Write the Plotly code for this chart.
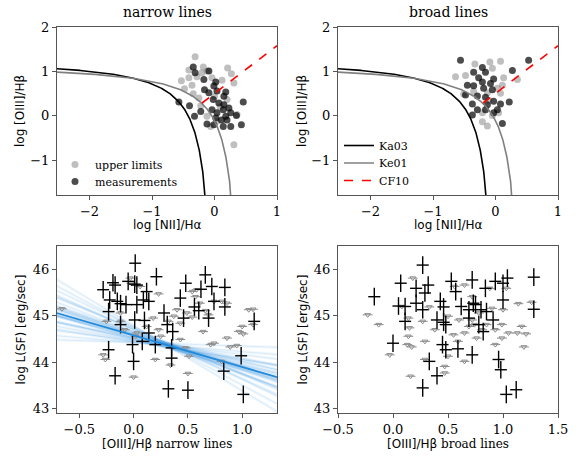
import numpy as np
import plotly.graph_objects as go

# %% data

# BPT diagram, narrow lines
nar_ul_x = [-0.31, -0.41, -0.18, 0.21, 0.27, -0.53, -0.36, -0.28, -0.48, -0.34, 0.12, 0.31, -0.25,
            -0.22, -0.12, -0.06, 0.04, 0.31, 0.09, 0.20, 0.00, -0.12, -0.20, 0.36, -0.04, -0.41]
nar_ul_y = [1.33, 1.03, 1.10, 1.08, 0.95, 0.79, 0.69, 0.88, 0.61, 0.50, 0.80, 0.74, 0.40,
            0.23, -0.01, -0.24, -0.12, -0.65, 0.20, 0.37, 0.44, 1.01, 0.97, 0.03, 0.86, 0.86]
nar_me_x = [-0.34, -0.31, -0.09, -0.17, 0.02, -0.16, -0.01, -0.09, 0.18, -0.02, 0.07, 0.15, -0.57,
            -0.40, -0.32, -0.22, -0.04, 0.04, 0.14, 0.18, 0.26, 0.46, 0.35, -0.12, -0.01, 0.14,
            0.26, 0.43, 0.11, 0.20, 0.02, 0.15, 0.04, 0.23]
nar_me_y = [1.10, 0.97, 1.01, 0.82, 0.76, 0.59, 0.67, 0.52, 0.54, 0.37, 0.29, 0.25, 0.31,
            0.23, -0.01, 0.10, 0.14, 0.07, 0.14, -0.01, 0.07, 0.31, 0.01, -0.18, -0.20, -0.24,
            -0.24, -0.20, -0.09, -0.09, -0.05, 0.44, 0.56, 0.18]

# BPT diagram, broad lines
brd_ul_x = [-0.33, -0.09, 0.08, -0.05, -0.64, -0.48, 0.13, 0.35, 0.11, 0.08, -0.13, -0.21, -0.13,
            -0.05, 0.05, -0.51, -0.21, -0.35, 0.03, -0.11]
brd_ul_y = [1.17, 1.21, 1.23, 1.07, 0.88, 0.91, 0.86, 0.82, 0.69, 0.51, 0.52, -0.13, -0.23,
            0.01, 0.07, 0.49, 0.07, 0.55, 0.62, 0.35]
brd_me_x = [-0.56, 0.53, 0.27, -0.21, -0.35, -0.16, -0.03, -0.27, -0.45, -0.35, -0.19, -0.08, -0.48,
            -0.29, -0.16, -0.03, 0.08, 0.22, -0.37, -0.29, -0.16, -0.03, -0.37, 0.11, -0.13, -0.21,
            -0.05, 0.03]
brd_me_y = [1.25, 1.25, 1.02, 1.09, 0.98, 0.98, 0.83, 0.86, 0.69, 0.68, 0.62, 0.73, 0.47,
            0.45, 0.42, 0.33, 0.27, 0.31, 0.27, 0.14, 0.14, 0.07, 0.02, -0.17, 0.25, 0.76,
            0.59, 0.14]

# demarcation lines
ka03_a, ka03_b, ka03_c = 0.61, 0.05, 1.30   # Kauffmann+03
ke01_a, ke01_b, ke01_c = 0.61, 0.47, 1.19   # Kewley+01
cf10_x = [-0.20, 1.00]
cf10_y = [0.29, 1.58]

# L(SF) vs [OIII]/Hb, narrow lines
ln_me_x = [0.015, 0.21, 0.66, -0.28, -0.19, -0.17, -0.05, 0.01, 0.03, 0.12, -0.22, -0.15, -0.12,
           0.03, 0.09, 0.14, -0.23, -0.07, 0.48, 0.43, 0.72, 0.74, 0.84, 0.62, 0.56, 0.60, 0.69,
           0.84, 1.11, -0.12, 0.01, 0.10, 0.28, 0.31, 0.46, 0.36, 0.14, 0.20, -0.23, -0.01, 0.35,
           0.35, 0.00, -0.17, 0.32, 0.50, 0.83, 0.99, 1.01, 0.08]
ln_me_y = [46.13, 45.84, 45.88, 45.56, 45.71, 45.66, 45.74, 45.68, 45.66, 45.52, 45.34, 45.31, 45.26,
           45.24, 45.34, 45.31, 45.09, 45.24, 45.70, 45.38, 45.63, 45.31, 45.61, 45.57, 45.19, 45.11,
           44.95, 45.19, 44.88, 44.81, 44.91, 44.90, 45.06, 44.81, 44.95, 44.66, 44.63, 44.38, 44.27,
           44.38, 44.31, 44.09, 44.02, 43.71, 43.43, 43.40, 43.81, 44.14, 43.31, 44.45]
ln_ul_x = [-0.66, -0.25, -0.28, -0.26, 0.00, -0.03, -0.02, 0.06, 0.23, -0.12, -0.12, -0.08, 0.02,
           0.03, 0.12, 0.18, 0.23, 0.25, 0.32, 0.37, 0.40, 0.43, 0.49, 0.54, 0.57, 0.58, 0.61,
           0.66, 0.69, 0.74, 0.81, 0.86, 0.64, 0.71, 0.74, 0.48, 0.51, 0.50, 0.34, 0.20, 0.86,
           0.89, 0.95, 0.97, 1.00, 1.01, 1.06, 1.10, 1.10, 0.81, 0.43, 0.54]
ln_ul_y = [45.15, 44.88, 44.16, 44.06, 43.68, 45.81, 45.70, 45.63, 45.47, 45.06, 44.88, 44.70, 44.56,
           44.63, 44.77, 44.95, 44.70, 44.56, 44.88, 44.99, 45.13, 44.84, 45.06, 44.97, 45.41, 45.56,
           45.27, 45.11, 45.02, 45.31, 45.31, 45.27, 44.66, 44.38, 44.41, 44.31, 44.13, 43.76, 43.94,
           44.06, 44.52, 44.33, 44.36, 44.66, 44.77, 44.61, 45.13, 45.14, 44.81, 44.02, 44.49, 45.52]

# L(SF) vs [OIII]/Hb, broad lines
lb_me_x = [0.27, -0.17, 0.07, 0.05, 0.11, 0.21, 0.32, 0.29, 0.21, 0.27, 0.11, 0.00, 0.43, 0.46,
           0.40, 0.46, 0.48, 0.53, 0.57, 0.72, 0.62, 0.69, 0.73, 0.75, 0.69, 0.78, 0.84, 0.85,
           0.82, 0.93, 1.00, 1.04, 1.00, 0.91, 1.28, 1.28, 0.45, 0.48, 0.59, 0.72, 0.33, 0.40,
           0.27, 0.96, 0.98, 1.03, 1.12, 0.80]
lb_me_y = [46.09, 45.41, 45.70, 45.21, 45.20, 45.59, 45.66, 45.49, 45.27, 45.13, 44.88, 44.41, 45.31,
           45.19, 44.91, 44.86, 44.81, 45.74, 45.52, 45.77, 45.20, 45.13, 45.27, 45.24, 44.95, 44.81,
           45.59, 45.09, 44.66, 45.74, 45.70, 45.81, 45.34, 44.91, 45.83, 45.14, 44.38, 44.27, 44.29,
           44.16, 44.02, 43.71, 43.45, 44.06, 43.84, 43.31, 43.41, 45.13]
lb_ul_x = [-0.23, -0.13, -0.03, 0.14, 0.13, 0.17, 0.16, 0.08, 0.14, 0.15, 0.18, 0.27, 0.29, 0.29,
           0.33, 0.38, 0.47, 0.47, 0.50, 0.56, 0.60, 0.59, 0.65, 0.65, 0.65, 0.69, 0.72, 0.74,
           0.78, 0.81, 0.85, 0.88, 0.90, 0.93, 0.99, 0.99, 1.00, 1.03, 1.05, 1.13, 1.14, 1.17,
           1.21, 1.26, 1.19, 0.93, 0.76, 0.55, 0.72, 0.50]
lb_ul_y = [45.02, 44.81, 44.16, 44.56, 44.38, 44.33, 43.70, 45.20, 44.95, 44.74, 45.81, 44.88, 44.45,
           44.06, 45.19, 44.70, 43.91, 43.77, 44.13, 45.63, 44.91, 44.45, 45.66, 44.02, 44.63, 44.77,
           45.41, 44.81, 45.06, 44.70, 44.81, 45.59, 45.16, 44.70, 44.52, 44.81, 45.13, 45.59, 44.63,
           44.63, 45.26, 44.77, 44.61, 45.29, 44.33, 44.38, 44.52, 44.59, 44.91, 44.99]

x_err_me = 0.055
y_err_me = 0.19
x_err_ul = 0.045

# linear fit (best) and a handful of posterior draws, pivot at x = 0.35
fit_slope, fit_pivot = -0.68, 44.34
draw_slope = [-0.08, -0.20, -0.30, -0.38, -0.45, -0.50, -0.55, -0.60, -0.63, -0.66, -0.70, -0.73,
              -0.77, -0.80, -0.85, -0.90, -0.95, -1.05, -1.12, -0.58, -0.68, -0.75, -0.42, -0.98,
              -1.25, -1.40]
draw_pivot = [44.40, 44.36, 44.36, 44.31, 44.38, 44.33, 44.30, 44.36, 44.34, 44.29, 44.35, 44.39,
              44.32, 44.37, 44.30, 44.34, 44.38, 44.33, 44.36, 44.40, 44.28, 44.35, 44.33, 44.37,
              44.32, 44.30]

# %% figure
serif = "DejaVu Serif"
sans = "DejaVu Sans"
ul_col = "rgba(128,128,128,0.5)"
me_col = "rgba(0,0,0,0.7)"
spine = "#555555"
W, H = 581, 465


def fx_px(px):
    return px / W


def fy_px(py):
    return 1 - py / H


fig = go.Figure()

xs_ka = np.linspace(-2.6, ka03_b - 0.001, 800)
xs_ke = np.linspace(-2.6, ke01_b - 0.001, 800)

for n, (ul_x, ul_y, me_x, me_y) in enumerate([(nar_ul_x, nar_ul_y, nar_me_x, nar_me_y),
                                              (brd_ul_x, brd_ul_y, brd_me_x, brd_me_y)]):
    xa, ya = ("x", "y") if n == 0 else ("x2", "y2")
    fig.add_trace(go.Scatter(x=ul_x, y=ul_y, mode="markers", name="upper limits", xaxis=xa, yaxis=ya,
                             marker=dict(size=7, color=ul_col), showlegend=(n == 0), legend="legend"))
    fig.add_trace(go.Scatter(x=me_x, y=me_y, mode="markers", name="measurements", xaxis=xa, yaxis=ya,
                             marker=dict(size=7, color=me_col), showlegend=(n == 0), legend="legend3"))
    fig.add_trace(go.Scatter(x=xs_ka, y=ka03_a / (xs_ka - ka03_b) + ka03_c, mode="lines", name="Ka03",
                             xaxis=xa, yaxis=ya, line=dict(color="black", width=1.6),
                             showlegend=(n == 1), legend="legend2"))
    fig.add_trace(go.Scatter(x=xs_ke, y=ke01_a / (xs_ke - ke01_b) + ke01_c, mode="lines", name="Ke01",
                             xaxis=xa, yaxis=ya, line=dict(color="gray", width=1.6),
                             showlegend=(n == 1), legend="legend4"))
    fig.add_trace(go.Scatter(x=cf10_x, y=cf10_y, mode="lines", name="CF10", xaxis=xa, yaxis=ya,
                             line=dict(color="red", width=1.6, dash="dash"),
                             showlegend=(n == 1), legend="legend5"))

# fan of fit draws (narrow lines panel)
fx = np.array([-0.8, 1.4])
for s, p in zip(draw_slope, draw_pivot):
    fig.add_trace(go.Scatter(x=fx, y=p + s * (fx - 0.35), mode="lines", xaxis="x3", yaxis="y3",
                             line=dict(color="rgba(35,137,218,0.06)", width=3), showlegend=False,
                             hoverinfo="skip"))
for s, p in zip(draw_slope, draw_pivot):
    fig.add_trace(go.Scatter(x=fx, y=p + s * (fx - 0.35), mode="lines", xaxis="x3", yaxis="y3",
                             line=dict(color="rgba(35,137,218,0.12)", width=1), showlegend=False,
                             hoverinfo="skip"))

for xa, ya, me_x, me_y, ul_x, ul_y in [("x3", "y3", ln_me_x, ln_me_y, ln_ul_x, ln_ul_y),
                                        ("x4", "y4", lb_me_x, lb_me_y, lb_ul_x, lb_ul_y)]:
    fig.add_trace(go.Scatter(x=ul_x, y=ul_y, mode="markers", xaxis=xa, yaxis=ya, showlegend=False,
                             marker=dict(symbol="triangle-down-open", size=5, color="#8c8c8c",
                                         line=dict(width=1)),
                             error_x=dict(type="constant", value=x_err_ul, color="#8c8c8c",
                                          thickness=1, width=0)))
    fig.add_trace(go.Scatter(x=me_x, y=me_y, mode="markers", xaxis=xa, yaxis=ya, showlegend=False,
                             marker=dict(size=1, color="rgba(0,0,0,0)"),
                             error_x=dict(type="constant", value=x_err_me, color="black",
                                          thickness=1.4, width=0),
                             error_y=dict(type="constant", value=y_err_me, color="black",
                                          thickness=1.4, width=0)))

fig.add_trace(go.Scatter(x=fx, y=fit_pivot + fit_slope * (fx - 0.35), mode="lines", xaxis="x3",
                         yaxis="y3", line=dict(color="#2389da", width=1.8), showlegend=False))

tickfont = dict(family=serif, size=13, color="black")
axis_common = dict(showline=True, linecolor=spine, linewidth=1, mirror=True, ticks="outside",
                   ticklen=4, tickcolor=spine, showgrid=False, zeroline=False, tickfont=tickfont,
                   automargin=False)

colx = [[fx_px(57), fx_px(277)], [fx_px(338), fx_px(558)]]
rowy = [[fy_px(195), fy_px(27)], [fy_px(413), fy_px(246)]]

lab = dict(family=sans, size=12, color="black")
ser = "<span style='font-family:DejaVu Serif'>%s</span>"


def text(t, x, y, angle=0, font=lab):
    return dict(text=t, x=x, y=y, xref="paper", yref="paper", xanchor="center", yanchor="middle",
                showarrow=False, textangle=angle, font=font)


def leg(px, py):
    return dict(x=fx_px(px), y=fy_px(py), xanchor="left", yanchor="top", bgcolor="rgba(0,0,0,0)",
                font=dict(family=serif, size=11, color="black"), tracegroupgap=0, itemwidth=30)


fig.update_layout(
    width=W, height=H, margin=dict(l=0, r=0, t=0, b=0),
    plot_bgcolor="white", paper_bgcolor="white",
    xaxis=dict(domain=colx[0], anchor="y", range=[-2.52, 1.0], tickvals=[-2, -1, 0, 1], **axis_common),
    yaxis=dict(domain=rowy[0], anchor="x", range=[-1.78, 2.0], tickvals=[-1, 0, 1, 2], **axis_common),
    xaxis2=dict(domain=colx[1], anchor="y2", range=[-2.52, 1.0], tickvals=[-2, -1, 0, 1], **axis_common),
    yaxis2=dict(domain=rowy[0], anchor="x2", range=[-1.78, 2.0], tickvals=[-1, 0, 1, 2], **axis_common),
    xaxis3=dict(domain=colx[0], anchor="y3", range=[-0.705, 1.32], tickvals=[-0.5, 0, 0.5, 1.0],
                tickformat=".1f", **axis_common),
    yaxis3=dict(domain=rowy[1], anchor="x3", range=[42.91, 46.5], tickvals=[43, 44, 45, 46], **axis_common),
    xaxis4=dict(domain=colx[1], anchor="y4", range=[-0.5, 1.5], tickvals=[-0.5, 0, 0.5, 1.0, 1.5],
                tickformat=".1f", **axis_common),
    yaxis4=dict(domain=rowy[1], anchor="x4", range=[42.91, 46.5], tickvals=[43, 44, 45, 46], **axis_common),
    legend=leg(55, 150),
    legend3=leg(55, 167),
    legend2=leg(339, 131),
    legend4=leg(339, 148.5),
    legend5=leg(339, 166),
    annotations=[
        text("narrow lines", sum(colx[0]) / 2, fy_px(12), font=dict(family=serif, size=14, color="black")),
        text("broad lines", sum(colx[1]) / 2, fy_px(12), font=dict(family=serif, size=14, color="black")),
        text("log [NII]/Hα", sum(colx[0]) / 2, fy_px(225)),
        text("log [NII]/Hα", sum(colx[1]) / 2, fy_px(225)),
        text("log [OIII]/Hβ", fx_px(20), sum(rowy[0]) / 2, angle=-90),
        text("log [OIII]/Hβ", fx_px(302), sum(rowy[0]) / 2, angle=-90),
        text("[OIII]/Hβ" + ser % " narrow lines", sum(colx[0]) / 2, fy_px(444)),
        text("[OIII]/Hβ" + ser % " broad lines", sum(colx[1]) / 2, fy_px(444)),
        text("log L(SF) [erg/sec]", fx_px(20), sum(rowy[1]) / 2, angle=-90),
        text("log L(SF) [erg/sec]", fx_px(302), sum(rowy[1]) / 2, angle=-90),
    ],
)

# drop the browser's default 8px body margin so the figure fills the window
fig.write_html("out.html", config={"displayModeBar": False},
               post_script="document.body.style.margin = '0';")
